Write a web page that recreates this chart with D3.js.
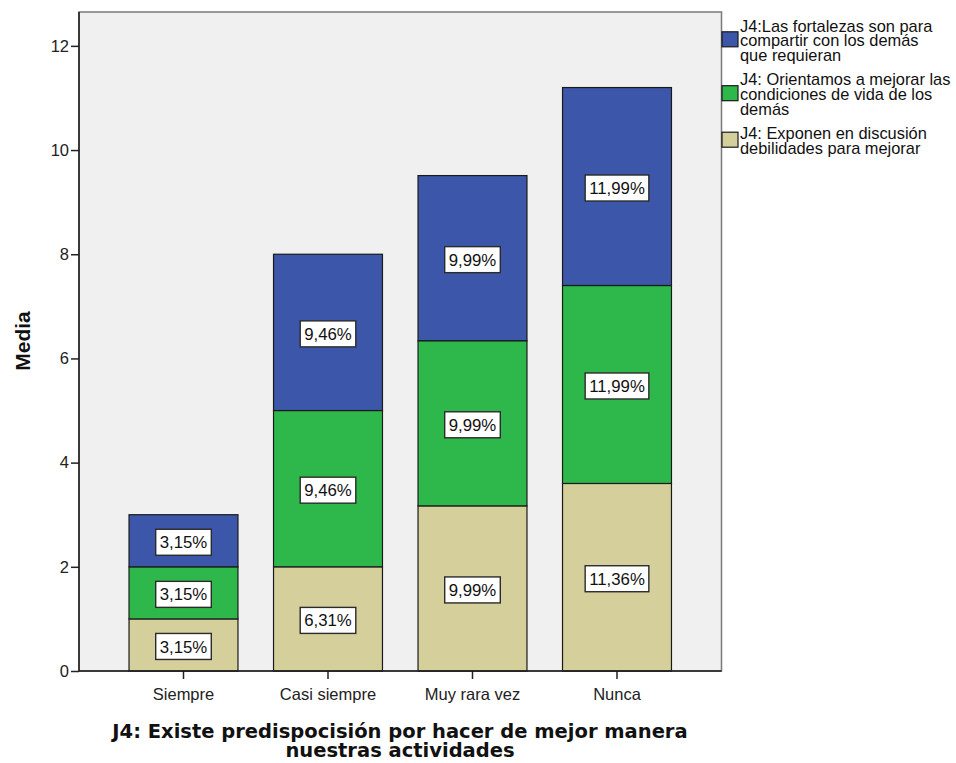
<!DOCTYPE html>
<html>
<head>
<meta charset="utf-8">
<script src="https://cdn.jsdelivr.net/npm/d3@7"></script>
<style>
  html, body { margin: 0; padding: 0; background: #ffffff; }
  svg { display: block; }
</style>
</head>
<body>
<svg id="chart" width="956" height="763"></svg>
<script>
// ---- data ----
const categories = ["Siempre", "Casi siempre", "Muy rara vez", "Nunca"];
const seriesNames = [
  "J4: Exponen en discusión debilidades para mejorar",
  "J4: Orientamos a mejorar las condiciones de vida de los demás",
  "J4:Las fortalezas son para compartir con los demás que requieran"
];
const exponenValues     = [1, 2, 3.17, 3.6];
const orientamosValues  = [1, 3, 3.17, 3.8];
const fortalezasValues  = [1, 3, 3.17, 3.8];
const exponenLabels     = ["3,15%", "6,31%", "9,99%", "11,36%"];
const orientamosLabels  = ["3,15%", "9,46%", "9,99%", "11,99%"];
const fortalezasLabels  = ["3,15%", "9,46%", "9,99%", "11,99%"];
const yTicks = [0, 2, 4, 6, 8, 10, 12];
const legendLines = [
  ["J4:Las fortalezas son para", "compartir con los demás", "que requieran"],
  ["J4: Orientamos a mejorar las", "condiciones de vida de los", "demás"],
  ["J4: Exponen en discusión", "debilidades para mejorar"]
];
const xTitleLines = ["J4: Existe predispocisión por hacer de mejor manera", "nuestras actividades"];
const yTitle = "Media";

// ---- styles ----
const colors = ["#d4cf9b", "#2eb84b", "#3c56a9"];
const sansFont = "'Liberation Sans', Arial, sans-serif";
const titleFont = "'DejaVu Sans', Verdana, sans-serif";

const svg = d3.select("#chart");

const plot = { left: 79, right: 721.5, top: 12, bottom: 671 };

const x = d3.scaleBand()
  .domain(categories)
  .range([111.25, 689.25])
  .paddingInner(0.246)
  .paddingOuter(0.123);

const y = d3.scaleLinear()
  .domain([0, 12.65])
  .range([plot.bottom, plot.top]);

// background
svg.append("rect")
  .attr("x", plot.left).attr("y", plot.top)
  .attr("width", plot.right - plot.left).attr("height", plot.bottom - plot.top)
  .attr("fill", "#f0f0f0")
  .attr("stroke", "#7a7a7a").attr("stroke-width", 1.5);

// stack data
const table = categories.map((c, i) => ({
  cat: c,
  s0: exponenValues[i], s1: orientamosValues[i], s2: fortalezasValues[i],
  l0: exponenLabels[i], l1: orientamosLabels[i], l2: fortalezasLabels[i]
}));
const stack = d3.stack().keys(["s0", "s1", "s2"]);
const layers = stack(table);

const layerG = svg.selectAll("g.layer").data(layers).join("g")
  .attr("class", "layer")
  .attr("fill", (d, i) => colors[i]);

layerG.selectAll("rect").data(d => d).join("rect")
  .attr("x", d => x(d.data.cat))
  .attr("y", d => y(d[1]))
  .attr("width", x.bandwidth())
  .attr("height", d => y(d[0]) - y(d[1]))
  .attr("stroke", "#1a1a1a")
  .attr("stroke-width", 1.2);

// value labels
layers.forEach((layer, li) => {
  layer.forEach(d => {
    const cx = x(d.data.cat) + x.bandwidth() / 2;
    const cy = (y(d[0]) + y(d[1])) / 2 + 1.5;
    const g = svg.append("g");
    const box = g.append("rect").attr("fill", "#ffffff")
      .attr("stroke", "#2b2b2b").attr("stroke-width", 1.4);
    const t = g.append("text")
      .attr("x", cx).attr("y", cy)
      .attr("dy", "0.36em")
      .attr("text-anchor", "middle")
      .attr("font-family", sansFont)
      .attr("font-size", 16.8)
      .attr("fill", "#111")
      .text(d.data["l" + li]);
    const w = t.node().getComputedTextLength() + 8;
    const h = 26;
    box.attr("x", cx - w / 2).attr("y", cy - h / 2).attr("width", w).attr("height", h);
  });
});

// axes
const yAxis = svg.append("g")
  .attr("transform", `translate(${plot.left},0)`)
  .call(d3.axisLeft(y).tickValues(yTicks).tickSize(8).tickPadding(2).tickFormat(d3.format("d")));
yAxis.select(".domain").remove();
yAxis.selectAll(".tick line").attr("stroke", "#222").attr("stroke-width", 1.5);
yAxis.selectAll(".tick text").attr("font-family", sansFont).attr("font-size", 16.5).attr("fill", "#222");

const xAxis = svg.append("g")
  .attr("transform", `translate(0,${plot.bottom})`)
  .call(d3.axisBottom(x).tickSize(8).tickPadding(9));
xAxis.select(".domain").remove();
xAxis.selectAll(".tick line").attr("stroke", "#222").attr("stroke-width", 1.5);
xAxis.selectAll(".tick text").attr("font-family", sansFont).attr("font-size", 16.5).attr("fill", "#222");

// axis lines
svg.append("line")
  .attr("x1", plot.left).attr("x2", plot.left)
  .attr("y1", plot.top).attr("y2", plot.bottom)
  .attr("stroke", "#1a1a1a").attr("stroke-width", 1.5);
svg.append("line")
  .attr("x1", plot.left).attr("x2", plot.right)
  .attr("y1", plot.bottom).attr("y2", plot.bottom)
  .attr("stroke", "#1a1a1a").attr("stroke-width", 1.5);

// y title
svg.append("text")
  .attr("transform", "translate(30,341) rotate(-90)")
  .attr("text-anchor", "middle")
  .attr("font-family", sansFont)
  .attr("font-weight", "bold")
  .attr("font-size", 21)
  .attr("fill", "#111")
  .text(yTitle);

// x title
svg.append("text")
  .attr("text-anchor", "middle")
  .attr("font-family", titleFont)
  .attr("font-weight", "bold")
  .attr("font-size", 19.5)
  .attr("fill", "#111")
  .selectAll("tspan").data(xTitleLines).join("tspan")
  .attr("x", 400)
  .attr("y", (d, i) => 738 + i * 19)
  .text(d => d);

// legend
const legendOrder = [2, 1, 0];
let baseY = 31.5;
const lineH = 14.8;
legendLines.forEach((lines, k) => {
  const si = legendOrder[k];
  const top = baseY - 12;
  const bottom = baseY + (lines.length - 1) * lineH + 3;
  const center = (top + bottom) / 2 - 2.5;
  svg.append("rect")
    .attr("x", 722).attr("y", center - 7.5)
    .attr("width", 16).attr("height", 15)
    .attr("fill", colors[si])
    .attr("stroke", "#1a1a1a").attr("stroke-width", 1.2);
  const t = svg.append("text")
    .attr("font-family", sansFont)
    .attr("font-size", 16.4)
    .attr("fill", "#111");
  t.selectAll("tspan").data(lines).join("tspan")
    .attr("x", 740)
    .attr("y", (d, i) => baseY + i * lineH)
    .text(d => d);
  baseY += lines.length * lineH + 9.5;
});
</script>
</body>
</html>
